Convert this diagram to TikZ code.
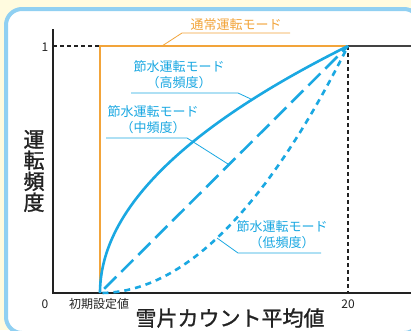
\documentclass[tikz,border=0pt]{standalone}
\usepackage{fontspec}
\setmainfont{Noto Sans CJK JP}
\newfontfamily\titlefont[FakeBold=1.2]{Noto Sans CJK JP}
\definecolor{suiblue}{HTML}{1AA8E2}
\definecolor{modeorange}{HTML}{F2A43A}
\definecolor{framesky}{HTML}{90D0F2}
\definecolor{paper}{HTML}{FFFBDF}
\definecolor{ink}{HTML}{222222}

\begin{document}
\begin{tikzpicture}[x=1pt,y=-1pt,
    curve/.style={suiblue,line width=2.6pt},
    lead/.style={suiblue,line width=0.8pt},
    lbl/.style={suiblue,font=\fontsize{13}{16}\selectfont,align=center,inner sep=0pt},
    tick/.style={ink,font=\fontsize{12}{14}\selectfont,inner sep=0pt}]
    \fill[paper] (0,0) rectangle (411,330);
    \useasboundingbox (0,0) rectangle (411,330);
    \draw[framesky,fill=white,line width=4pt,rounded corners=16pt]
        (6,333) -- (6,9) -- (420,9) -- (420,333) -- cycle;

    \coordinate (o) at (53,293);
    \coordinate (s) at (100,293);
    \coordinate (top) at (100,46);
    \coordinate (e) at (348,46);
    \coordinate (ex) at (348,293);

    % axes and guides
    \draw[ink,line width=1.2pt,dash pattern=on 4pt off 3pt] (53,46) -- (top);
    \draw[ink,line width=1.2pt,dash pattern=on 4pt off 3pt] (e) -- (ex);
    \draw[ink!85,line width=1.4pt] (e) -- (411,46);
    \draw[ink,line width=1.3pt] (53,29) -- (o) -- (411,293);
    \draw[modeorange,line width=1.7pt] (s) -- (top) -- (e);

    % modes
    \draw[curve] plot[domain=0:1,samples=80,variable=\t] ({100+248*\t*\t},{293-247*\t});
    \draw[curve,dash pattern=on 17pt off 7pt,dash phase=-6pt] (s) -- (e);
    \draw[curve,dash pattern=on 6pt off 5pt] plot[domain=0.01:1,samples=80,variable=\t] ({100+248*\t},{293-247*\t*\t});

    % labels
    \node[modeorange,font=\fontsize{13}{16}\selectfont,inner sep=0pt] (normal) at (236,25) {通常運転モード};
    \coordinate (n1) at (182,33);
    \coordinate (n2) at (290,33);
    \coordinate (n3) at (162,46);
    \draw[modeorange,line width=0.8pt] (n2) -- (n1) -- (n3);

    \node[lbl] (high) at (179,75) {節水運転モード\\（高頻度）};
    \coordinate (h1) at (131,93);
    \coordinate (h2) at (238,93);
    \coordinate (h3) at (253,100);
    \draw[lead] (h1) -- (h2) -- (h3);

    \node[lbl] (mid) at (153,120) {節水運転モード\\（中頻度）};
    \coordinate (m1) at (106,138);
    \coordinate (m2) at (187,138);
    \coordinate (m3) at (228,164);
    \draw[lead] (m1) -- (m2) -- (m3);

    \node[lbl] (low) at (282,235) {節水運転モード\\（低頻度）};
    \coordinate (l1) at (217,238);
    \coordinate (l2) at (238,253);
    \coordinate (l3) at (321,253);
    \draw[lead] (l1) -- (l2) -- (l3);

    \node[tick] (one) at (45,47) {1};
    \node[tick] (zero) at (45,304) {0};
    \node[tick] (twenty) at (348,304) {20};
    \node[tick] (init) at (99,304) {初期設定値};
    \node[ink,font=\fontsize{21}{24}\selectfont\titlefont,inner sep=0pt] (xlab) at (230,318) {雪片カウント平均値};
    \node[ink,font=\fontsize{21}{21}\selectfont\titlefont,align=center,inner sep=0pt] (ylab) at (34,171) {運\\転\\頻\\度};
\end{tikzpicture}
\end{document}
